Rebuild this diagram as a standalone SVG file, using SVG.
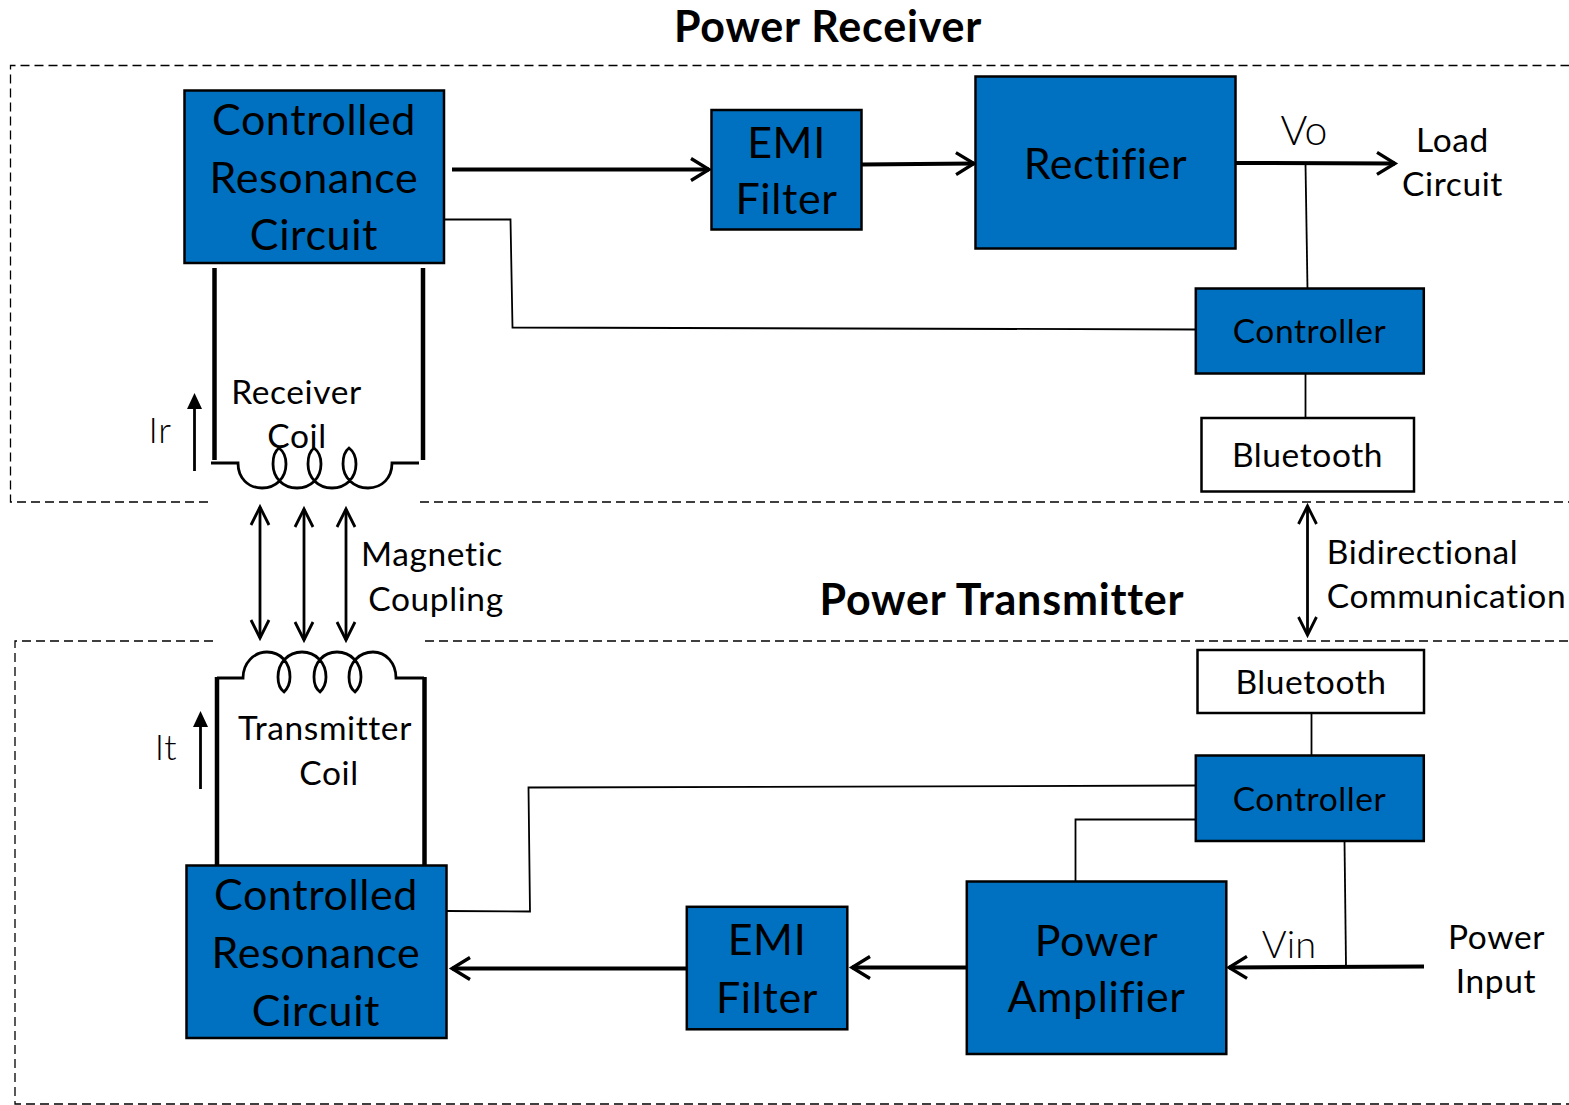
<svg xmlns="http://www.w3.org/2000/svg" width="1569" height="1105" viewBox="0 0 1569 1105">
<style>
text{font-family:"Lato","Liberation Sans",sans-serif;fill:#000;text-anchor:middle}
.b{fill:#0070c0;stroke:#000;stroke-width:2.500}
.w{fill:#fff;stroke:#000;stroke-width:2.500}
.t1{font-size:43px;letter-spacing:.6px}.t2{font-size:33.500px;letter-spacing:.6px}
.h{font-size:43px;font-weight:700;letter-spacing:.8px}
.d{fill:none;stroke:#000;stroke-width:1.300;stroke-dasharray:9 5}
.c{fill:none;stroke:#000}
.n{stroke-width:1.800}.m{stroke-width:2.800}.k{stroke-width:4}.f{stroke-width:4.500}
</style>
<defs>
<marker id="o" markerUnits="userSpaceOnUse" markerWidth="24" markerHeight="28" refX="20" refY="14" orient="auto-start-reverse"><path d="M2 3 L20 14 L2 25" fill="none" stroke="#000" stroke-width="3.300"/></marker>
<marker id="s" markerUnits="userSpaceOnUse" markerWidth="24" markerHeight="24" refX="20" refY="12" orient="auto-start-reverse"><path d="M2 3 L20 12 L2 21" fill="none" stroke="#000" stroke-width="2.800"/></marker>
</defs>
<g id="boundaries">
<path class="d" d="M208 502 H10.500 V65.500 H1569"/><path class="d" d="M420 502 H1569"/>
<path class="d" d="M213 641 H15 V1104 H1569"/><path class="d" d="M425 641 H1569"/>
</g>
<g id="connectors">
<path class="c k" d="M452 169.500 H709" marker-end="url(#o)"/>
<path class="c k" d="M862 164.500 L974 163.500" marker-end="url(#o)"/>
<path class="c k" d="M1236 163 L1395 163.500" marker-end="url(#o)"/>
<path class="c n" d="M445 219.500 H510.500 L512.500 327.500 L1197 329.500"/>
<path class="c n" d="M1305.500 164 L1307.500 289"/>
<path class="c n" d="M1305.500 374 V418"/>
<path class="c m" d="M1307.500 506 V635" marker-start="url(#s)" marker-end="url(#s)"/>
<path class="c n" d="M1311.500 713 V756"/>
<path class="c n" d="M1196 785.500 L528.500 787.500 L530 911.500 L447 911"/>
<path class="c n" d="M1196 819.500 H1075.500 V882"/>
<path class="c n" d="M1344.500 841 L1346 966"/>
<path class="c k" d="M1424 966.500 L1229 967.500" marker-end="url(#o)"/>
<path class="c k" d="M966 967.500 H852" marker-end="url(#o)"/>
<path class="c k" d="M687 968.500 H452" marker-end="url(#o)"/>
<path class="c f" d="M214.500 268 V460"/><path class="c f" d="M423 268 V460"/>
<path class="c f" d="M217 677 V866"/><path class="c f" d="M424.500 677 V866"/>
<path class="c m" d="M260 507 V638" marker-start="url(#s)" marker-end="url(#s)"/>
<path class="c m" d="M304 509 V640" marker-start="url(#s)" marker-end="url(#s)"/>
<path class="c m" d="M346 509 V640" marker-start="url(#s)" marker-end="url(#s)"/>
<path class="c m" d="M194.500 471 V408"/><path d="M187 409 L194.500 393 L202 409Z"/>
<path class="c m" d="M200.500 789 V726"/><path d="M193 727 L200.500 711 L208 727Z"/>
</g>
<g id="receiver-coil">
<path class="c m" d="M211 463 H238 C238 478 248 488 262 488 C276 488 286 478 286 464 C286 456 283 451 279 448 C275 451 273 456 273 464 C273 478 283 488 297 488 C311 488 321 478 321 464 C321 456 318 451 314 448 C310 451 308 456 308 464 C308 478 318 488 332 488 C346 488 356 478 356 464 C356 456 353 451 349 448 C345 451 343 456 343 464 C343 478 354 488 368 488 C382 488 392 478 392 463 H419"/>
<text class="t2" x="296.500" y="404">Receiver</text><text class="t2" x="297" y="448">Coil</text>
</g>
<g id="transmitter-coil">
<path class="c m" d="M217 678 H243 C243 663 254 652 267 652 C281 652 290 663 290 677 C290 684 287 689 284 692 C280 689 278 684 278 677 C278 663 288 652 302 652 C316 652 326 663 326 677 C326 684 323 689 320 692 C316 689 314 684 314 677 C314 663 323 652 337 652 C351 652 361 663 361 677 C361 684 358 689 355 692 C351 689 349 684 349 677 C349 663 359 652 373 652 C386 652 396 663 396 678 H424"/>
<text class="t2" x="325" y="740">Transmitter</text><text class="t2" x="329" y="785">Coil</text>
</g>
<g id="rx-resonance"><rect class="b" x="184.500" y="90.500" width="259.500" height="172.500"/>
<text class="t1" x="314" y="135">Controlled</text><text class="t1" x="314" y="193">Resonance</text><text class="t1" x="314" y="250">Circuit</text></g>
<g id="rx-emi"><rect class="b" x="711.500" y="110" width="150" height="119.500"/>
<text class="t1" x="786.500" y="158">EMI</text><text class="t1" x="786.500" y="214">Filter</text></g>
<g id="rx-rectifier"><rect class="b" x="975.500" y="76.500" width="260" height="172"/>
<text class="t1" x="1105.500" y="179">Rectifier</text></g>
<g id="rx-controller"><rect class="b" x="1195.800" y="288.500" width="228" height="85"/>
<text class="t2" x="1309.500" y="343">Controller</text></g>
<g id="rx-bluetooth"><rect class="w" x="1201.500" y="418" width="212.500" height="73.500"/>
<text class="t2" x="1307.500" y="467">Bluetooth</text></g>
<g id="tx-bluetooth"><rect class="w" x="1197.500" y="650" width="226.500" height="63"/>
<text class="t2" x="1311" y="694">Bluetooth</text></g>
<g id="tx-controller"><rect class="b" x="1195.800" y="755.500" width="228" height="85.500"/>
<text class="t2" x="1309.500" y="811">Controller</text></g>
<g id="tx-amplifier"><rect class="b" x="966.800" y="881.500" width="259.500" height="172.500"/>
<text class="t1" x="1096.500" y="956">Power</text><text class="t1" x="1096.500" y="1012">Amplifier</text></g>
<g id="tx-emi"><rect class="b" x="686.800" y="906.800" width="160.500" height="122.500"/>
<text class="t1" x="767" y="955">EMI</text><text class="t1" x="767" y="1013">Filter</text></g>
<g id="tx-resonance"><rect class="b" x="186.500" y="865.500" width="260" height="172.500"/>
<text class="t1" x="316" y="910">Controlled</text><text class="t1" x="316" y="968">Resonance</text><text class="t1" x="316" y="1026">Circuit</text></g>
<g id="labels">
<text class="h" x="828" y="42">Power Receiver</text>
<text class="h" x="1002" y="615">Power Transmitter</text>
<text x="1304" y="145" style="font-size:41px;font-weight:300">Vo</text>
<text class="t2" x="1452.500" y="152">Load</text><text class="t2" x="1452.500" y="196">Circuit</text>
<text class="t2" x="160" y="443" style="font-size:36px;font-weight:300">Ir</text>
<text class="t2" x="166" y="760" style="font-size:36px;font-weight:300">It</text>
<text class="t2" x="432" y="566">Magnetic</text><text class="t2" x="436" y="611">Coupling</text>
<text class="t2" x="1422.500" y="564">Bidirectional</text><text class="t2" x="1446.500" y="608">Communication</text>
<text x="1289" y="958" style="font-size:38px;font-weight:300">Vin</text>
<text class="t2" x="1496.500" y="949">Power</text><text class="t2" x="1496" y="993">Input</text>
</g>
</svg>
